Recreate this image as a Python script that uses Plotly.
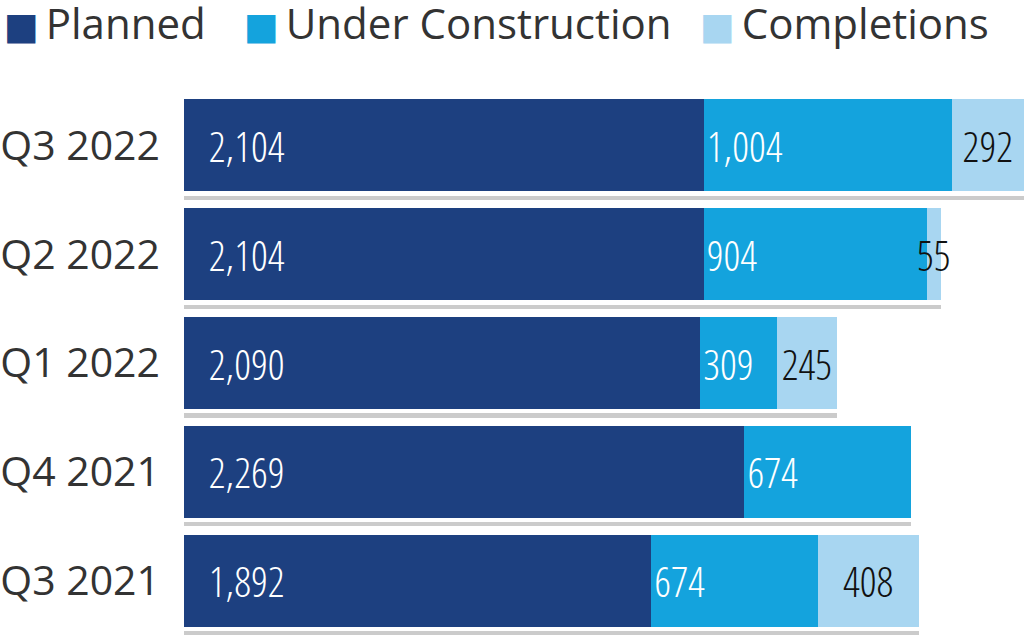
import plotly.graph_objects as go

quarters = ["Q3 2021", "Q4 2021", "Q1 2022", "Q2 2022", "Q3 2022"]
planned = [1892, 2269, 2090, 2104, 2104]
under_construction = [674, 674, 309, 904, 1004]
completions = [408, 0, 245, 55, 292]

series_names = ["Planned", "Under Construction", "Completions"]
series_colors = ["#1d4080", "#14a3dd", "#a8d6f1"]
label_colors = ["#ffffff", "#ffffff", "#111111"]
gray_color = "#cbcbcb"

label_font = "Open Sans Condensed Light, Roboto Condensed, sans-serif"
main_font = "Open Sans, Noto Sans, sans-serif"

totals = [p + u + c for p, u, c in zip(planned, under_construction, completions)]

fig = go.Figure()
pads = ["\u00a0\u00a0", "", ""]
anchors = ["start", "start", "middle"]
for name, vals, col, lc, pad, anc in zip(series_names,
                                         [planned, under_construction, completions],
                                         series_colors, label_colors, pads, anchors):
    texts = [pad + f"{v:,}" if v else "" for v in vals]
    fig.add_trace(go.Bar(
        y=quarters, x=vals, name=name, orientation="h",
        marker=dict(color=col, line=dict(width=0)),
        width=0.846,
        text=texts, texttemplate="%{text}", textposition="inside",
        insidetextanchor=anc, constraintext="none", textangle=0,
        textfont=dict(family=label_font, size=42, color=lc),
        hoverinfo="skip", showlegend=False,
    ))

# gray underline beneath each bar, drawn on an overlaid axis
fig.add_trace(go.Bar(
    y=quarters, x=totals, orientation="h", yaxis="y2",
    marker=dict(color=gray_color, line=dict(width=0)),
    width=0.037, offset=-0.501,
    hoverinfo="skip", showlegend=False,
))

ann = []
legend_x = [-0.2149, 0.0685, 0.6068]
for name, col, lx in zip(series_names, series_colors, legend_x):
    ann.append(dict(
        xref="paper", yref="paper", x=lx, y=1.126, xanchor="left", yanchor="middle",
        showarrow=False,
        text=(f"<span style='color:{col};font-family:DejaVu Sans;font-size:37px'>■</span>"
              f"<span style='font-size:26px'> </span>{name}"),
        font=dict(family=main_font, size=42, color="#333333"),
    ))

fig.update_layout(
    width=1031, height=637,
    margin=dict(l=184, r=0, t=91, b=2),
    paper_bgcolor="white", plot_bgcolor="white",
    barmode="stack",
    xaxis=dict(range=[0, 3429], visible=False, fixedrange=True),
    yaxis=dict(categoryorder="array", categoryarray=quarters, range=[-0.5, 4.5],
               showgrid=False, zeroline=False, showline=False, ticks="",
               tickfont=dict(family=main_font, size=41, color="#333333"),
               ticklabelstandoff=23, fixedrange=True, automargin=False),
    yaxis2=dict(overlaying="y", categoryorder="array", categoryarray=quarters,
                range=[-0.5, 4.5], visible=False, matches="y"),
    annotations=ann,
    showlegend=False,
)

fig.write_html("out.html", config={"displayModeBar": False},
               post_script="document.body.style.margin='0';")
